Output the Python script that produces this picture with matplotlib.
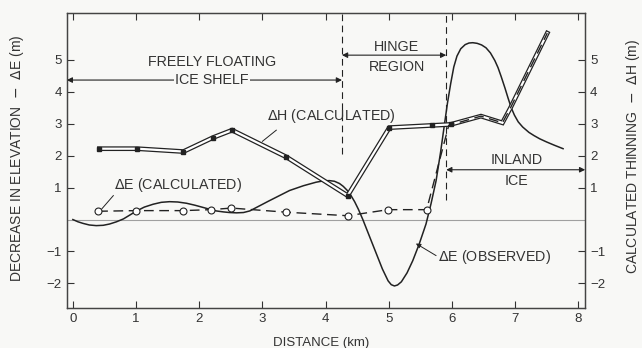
import matplotlib.pyplot as plt

plt.rcParams['font.family'] = ['Liberation Sans', 'DejaVu Sans']

# distance (km) and values (m)
dist_dh = [0.42, 1.02, 1.75, 2.22, 2.52, 3.38, 4.35, 5.01, 5.69, 5.98, 6.46, 6.80, 6.93, 7.51]
dh_calc = [2.22, 2.22, 2.13, 2.57, 2.80, 1.96, 0.75, 2.88, 2.95, 2.98, 3.24, 3.03, 3.51, 5.84]
n_dh_marked = 10

dist_de_calc = [0.40, 1.00, 1.74, 2.18, 2.51, 3.38, 4.35, 4.99, 5.60, 5.95, 6.46, 6.80, 6.93, 7.51]
de_calc = [0.26, 0.28, 0.28, 0.31, 0.36, 0.23, 0.12, 0.31, 0.31, 2.95, 3.24, 3.03, 3.51, 5.84]
n_de_circles = 9

dist_de_obs = [0.0, 0.08, 0.16, 0.26, 0.37, 0.48, 0.58, 0.69, 0.80, 0.90, 1.00, 1.13, 1.27,
               1.40, 1.53, 1.66, 1.80, 1.93, 2.06, 2.17, 2.27, 2.38, 2.48, 2.59, 2.70, 2.80,
               3.10, 3.43, 3.65, 3.85, 3.96, 4.06, 4.14, 4.22, 4.28, 4.34, 4.40, 4.46,
               4.52, 4.59, 4.70, 4.80, 4.90, 4.99, 5.04, 5.09, 5.14, 5.20, 5.29, 5.38, 5.48,
               5.59, 5.67, 5.75, 5.82, 5.88, 5.93, 5.98, 6.03, 6.08, 6.14, 6.21, 6.27, 6.33,
               6.40, 6.47, 6.54, 6.61, 6.68, 6.73, 6.78, 6.84, 6.89, 6.94, 6.99, 7.05, 7.12,
               7.22, 7.30, 7.39, 7.50, 7.62, 7.76]
de_obs = [0.0, -0.07, -0.12, -0.17, -0.19, -0.18, -0.14, -0.07, 0.02, 0.14, 0.26, 0.39, 0.48,
          0.54, 0.56, 0.55, 0.51, 0.45, 0.38, 0.32, 0.27, 0.24, 0.22, 0.21, 0.22, 0.27,
          0.58, 0.91, 1.06, 1.17, 1.21, 1.22, 1.20, 1.13, 1.04, 0.92, 0.76, 0.56,
          0.32, 0.00, -0.55, -1.05, -1.55, -1.92, -2.04, -2.08, -2.05, -1.95, -1.67, -1.29, -0.78,
          -0.14, 0.50, 1.22, 2.10, 2.95, 3.65, 4.25, 4.78, 5.12, 5.35, 5.48, 5.53, 5.54,
          5.52, 5.47, 5.38, 5.22, 4.98, 4.76, 4.48, 4.12, 3.80, 3.50, 3.27, 3.06, 2.90,
          2.73, 2.63, 2.53, 2.43, 2.33, 2.22]

x_ticks = [0, 1, 2, 3, 4, 5, 6, 7, 8]
y_ticks = [-2, -1, 1, 2, 3, 4, 5]
hinge_start, hinge_end = 4.26, 5.91

bg = '#f8f8f6'
ink = '#222222'
txt = '#333333'

fig = plt.figure(figsize=(6.42, 3.48), dpi=100, facecolor=bg)
ax = fig.add_axes([0.104, 0.115, 0.8075, 0.8476], facecolor=bg)
ax2 = ax.twinx()
xlim = (-0.097, 8.11)
ylim = (-2.77, 6.47)
ax.set_xlim(*xlim)
ax.set_ylim(*ylim)
ax2.set_ylim(*ylim)

# zero line
ax.axhline(0, color='#a0a0a0', lw=0.8, zorder=1)

# region boundaries
ax.plot([hinge_start, hinge_start], [2.05, ylim[1]], color=ink, lw=0.8, dashes=(6, 4), zorder=2)
ax.plot([hinge_end, hinge_end], [0.6, ylim[1]], color=ink, lw=0.8, dashes=(6, 4), zorder=2)

# region arrows
arr = dict(arrowstyle='<|-|>', color=ink, lw=0.8, mutation_scale=8, shrinkA=0, shrinkB=0)
ax.annotate('', xy=(xlim[0], 4.37), xytext=(hinge_start, 4.37), arrowprops=arr)
ax.annotate('', xy=(hinge_start, 5.15), xytext=(hinge_end, 5.15), arrowprops=arr)
ax.annotate('', xy=(hinge_end, 1.56), xytext=(xlim[1], 1.56), arrowprops=arr)

tkw = dict(ha='center', va='center', color=txt, fontsize=10.3)
ax.text(2.2, 4.92, 'FREELY FLOATING', **tkw)
ax.text(2.2, 4.37, 'ICE SHELF', bbox=dict(facecolor=bg, edgecolor='none', pad=1), **tkw)
ax.text(5.13, 5.41, 'HINGE', **tkw)
ax.text(5.13, 4.79, 'REGION', **tkw)
ax.text(7.03, 1.85, 'INLAND', **tkw)
ax.text(7.03, 1.22, 'ICE', **tkw)

# observed elevation change
ax.plot(dist_de_obs, de_obs, color=ink, lw=1.1, zorder=4)

# calculated thinning: double line with small square markers
ax2.plot(dist_dh, dh_calc, color=ink, lw=3.4, solid_joinstyle='miter', zorder=3)
ax2.plot(dist_dh, dh_calc, color='white', lw=1.6, solid_joinstyle='miter', zorder=3)
ax2.plot(dist_dh[:n_dh_marked], dh_calc[:n_dh_marked], ls='none', marker='s', ms=2.6,
         color=ink, zorder=3)

# calculated elevation change: dashed line with open circles
ax2.plot(dist_de_calc, de_calc, color=ink, lw=1.0, dashes=(7, 4), zorder=5,
         marker='o', ms=5, mfc='white', mec=ink, mew=0.8,
         markevery=list(range(n_de_circles)))

# labels with leader lines
ax.text(1.66, 1.09, r'$\Delta$E (CALCULATED)', **tkw)
ax.plot([0.64, 0.46], [0.75, 0.34], color=ink, lw=0.7)
ax.text(4.1, 3.24, r'$\Delta$H (CALCULATED)', **tkw)
ax.plot([3.22, 3.0], [2.8, 2.45], color=ink, lw=0.7)
ax.text(6.67, -1.17, r'$\Delta$E (OBSERVED)', **tkw)
ax.annotate('', xy=(5.43, -0.75), xytext=(5.75, -1.13),
            arrowprops=dict(arrowstyle='-|>', color=ink, lw=0.7, mutation_scale=7,
                            shrinkA=0, shrinkB=0))

# axes styling
ax.set_xticks(x_ticks)
ax.set_yticks(y_ticks)
ax2.set_yticks(y_ticks)
ax.tick_params(direction='in', top=True, right=False, length=5, width=0.8,
               labelsize=9.5, colors=txt)
ax2.tick_params(direction='in', length=5, width=0.8, labelsize=9.5, colors=txt)
for a in (ax, ax2):
    for s in a.spines.values():
        s.set_color('#444444')
        s.set_linewidth(0.9)

ax.set_xlabel('DISTANCE (km)', fontsize=9.5, color=txt)
ax.xaxis.set_label_coords(0.49, -0.1)
fig.text(0.027, 0.545, r'DECREASE IN ELEVATION  $-$  $\Delta$E (m)', fontsize=10, color=txt,
         rotation=90, ha='center', va='center')
fig.text(0.986, 0.55, r'CALCULATED THINNING  $-$  $\Delta$H (m)', fontsize=10, color=txt,
         rotation=90, ha='center', va='center')

fig.savefig('out.png', dpi=100, facecolor=bg)
